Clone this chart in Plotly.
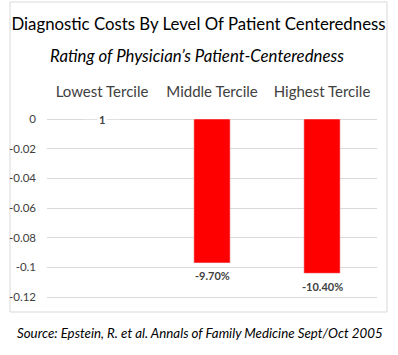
import plotly.graph_objects as go

categories = ["Lowest Tercile", "Middle Tercile", "Highest Tercile"]
values = [0.0, -0.097, -0.104]
value_labels = ["1", "-9.70%", "-10.40%"]
tick_vals = [0, -0.02, -0.04, -0.06, -0.08, -0.1, -0.12]
tick_text = ["0", "-0.02", "-0.04", "-0.06", "-0.08", "-0.1", "-0.12"]

FONT = "Lato"
GRAY = "#404040"

fig = go.Figure()
fig.add_trace(go.Bar(x=categories, y=values, marker_color="#ff0000", width=0.33,
                     hoverinfo="skip"))

for c, v, t in zip(categories, values, value_labels):
    if v == 0:
        fig.add_annotation(x=c, y=v, text="<b>" + t + "</b>", showarrow=False, bgcolor="white",
                           font=dict(family=FONT, size=11, color="#404040"),
                           yanchor="middle", borderpad=1)
    else:
        fig.add_annotation(x=c, y=v, text="<b>" + t + "</b>", showarrow=False,
                           font=dict(family=FONT, size=11, color="#404040"),
                           yanchor="middle", yshift=-13)

fig.add_annotation(text="<i>Rating of Physician’s Patient-Centeredness</i>",
                   xref="paper", yref="paper", x=(196.5 - 47) / 330, y=(300 - 56) / 181,
                   xanchor="center", yanchor="middle", showarrow=False,
                   font=dict(family=FONT, size=16.8, color="#000"))
fig.add_annotation(text="<i>Source: Epstein, R. et al. Annals of Family Medicine Sept/Oct 2005</i>",
                   xref="paper", yref="paper", x=(200 - 47) / 330, y=(300 - 333) / 181,
                   xanchor="center", yanchor="middle", showarrow=False,
                   font=dict(family=FONT, size=13.3, color="#000"))

fig.add_shape(type="rect", xref="paper", yref="paper",
              x0=(10 - 47) / 330, x1=(387 - 47) / 330,
              y0=(300 - 312) / 181, y1=(300 - 2) / 181,
              line=dict(color="#d9d9d9", width=1), fillcolor="rgba(0,0,0,0)", layer="below")

fig.update_layout(
    width=398, height=355,
    margin=dict(l=47, r=21, t=119, b=55, autoexpand=False),
    paper_bgcolor="white", plot_bgcolor="white",
    showlegend=False,
    title=dict(text="Diagnostic Costs By Level Of Patient Centeredness",
               x=198.5 / 398, xanchor="center", y=1 - 24 / 355, yanchor="middle",
               font=dict(family=FONT, size=16.8, color="#000")),
    xaxis=dict(side="top", showgrid=False, showline=False, zeroline=False,
               automargin=False,
               ticks="", tickfont=dict(family=FONT, size=15, color=GRAY),
               ticklabelstandoff=18),
    yaxis=dict(range=[-0.122, 0.0], tickvals=tick_vals, ticktext=tick_text,
               automargin=False,
               showgrid=True, gridcolor="#d9d9d9", gridwidth=1,
               zeroline=True, zerolinecolor="#d9d9d9", zerolinewidth=1,
               showline=False, ticks="", ticklabelstandoff=10,
               tickfont=dict(family=FONT, size=11.5, color=GRAY)),
)

fig.write_html("out.html", config={"displayModeBar": False},
               post_script="document.body.style.margin='0';document.body.style.overflow='hidden';")
